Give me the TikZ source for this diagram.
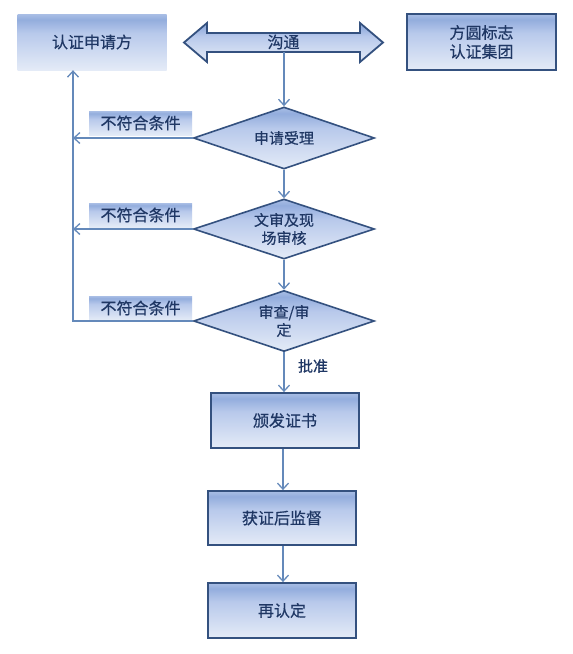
\documentclass[tikz,border=0pt]{standalone}
\usepackage{fontspec}
\newfontfamily\cjk[FakeBold=0.6]{Noto Sans CJK SC}
\usetikzlibrary{shapes.geometric,arrows.meta}
\definecolor{bordc}{HTML}{34517F}
\definecolor{linec}{HTML}{6489BA}
\definecolor{txtc}{HTML}{1F3764}
\definecolor{gB}{HTML}{E4EBF7}
\definecolor{gM}{HTML}{B8C9EB}
\definecolor{gD}{HTML}{93ADDD}
\definecolor{gT}{HTML}{A9BEE5}
\pgfdeclareverticalshading{boxgrad}{100bp}{color(0bp)=(gB); color(25bp)=(gB); color(58bp)=(gM); color(70bp)=(gD); color(75bp)=(gT); color(100bp)=(gT)}
\tikzset{
  x=1pt, y=-1pt,
  gradfill/.style={shading=boxgrad},
  bigtxt/.style={text=txtc, font=\cjk\fontsize{16}{19}\selectfont, align=center},
  smalltxt/.style={text=txtc, font=\cjk\fontsize{15}{18}\selectfont, align=center},
  procbox/.style={rectangle, draw=bordc, line width=1.8pt, gradfill, bigtxt, minimum width=148pt, minimum height=55pt, inner sep=0pt},
  plainbox/.style={rectangle, gradfill, bigtxt, minimum width=149pt, minimum height=56pt, inner sep=0pt},
  decision/.style={diamond, aspect=2.9, draw=bordc, line width=1.6pt, gradfill, smalltxt, minimum width=181pt, minimum height=62pt, inner sep=0pt},
  condlabel/.style={rectangle, gradfill, bigtxt, minimum width=103pt, minimum height=24pt, inner sep=0pt},
  conn/.style={draw=linec, line width=1.3pt},
  arr/.style={conn, -{Straight Barb[length=6pt,width=11pt,line width=1.3pt]}},
}
\begin{document}
\begin{tikzpicture}
\useasboundingbox (0,0) rectangle (573,654);
\fill[white] (0,0) rectangle (573,654);

% top row
\node[plainbox] (applicant) at (92,42) {认证申请方};
\node[procbox, minimum width=149pt, minimum height=56pt] (group) at (481.5,42) {方圆标志\\认证集团};

% double arrow
\filldraw[draw=bordc, line width=1.8pt, gradfill]
  (184,42.5) -- (207,23) -- (207,33) -- (360,33) -- (360,23) -- (383,42.5)
  -- (360,62) -- (360,52) -- (207,52) -- (207,62) -- cycle;
\node[bigtxt, inner sep=0pt] (comm) at (283.5,42) {沟通};
\coordinate (commb) at (284,52);

% decisions
\node[decision] (d1) at (284,138) {申请受理};
\node[decision, minimum height=60pt] (d2) at (284,229) {文审及现\\场审核};
\node[decision, minimum height=61pt] (d3) at (284,321) {审查/审\\定};

% process boxes
\node[procbox] (b1) at (285,420.5) {颁发证书};
\node[procbox, minimum height=54pt] (b2) at (282,518) {获证后监督};
\node[procbox] (b3) at (282,610.5) {再认定};

% condition labels
\node[condlabel] (l1) at (140.5,123) {不符合条件};
\node[condlabel] (l2) at (140.5,215) {不符合条件};
\node[condlabel] (l3) at (140.5,308) {不符合条件};

\node[smalltxt, inner sep=0pt] (ok) at (313,366) {批准};

% connectors
\coordinate (c1) at (73,138);
\coordinate (c2) at (73,229);
\coordinate (c3) at (73,321);
\coordinate (s1) at (283,0 |- b1.south);
\coordinate (s2) at (283,0 |- b2.south);
\path[arr] (commb) -- (d1.north);
\path[arr] (d1.south) -- (d2.north);
\path[arr] (d2.south) -- (d3.north);
\path[arr] (d3.south) -- (d3.south |- b1.north);
\path[arr] (s1) -- (s1 |- b2.north);
\path[arr] (s2) -- (s2 |- b3.north);
\path[arr] (d1.west) -- (c1);
\path[arr] (d2.west) -- (c2);
\path[arr] (d3.west) -- (c3) -- (c3 |- applicant.south);
\end{tikzpicture}
\end{document}
